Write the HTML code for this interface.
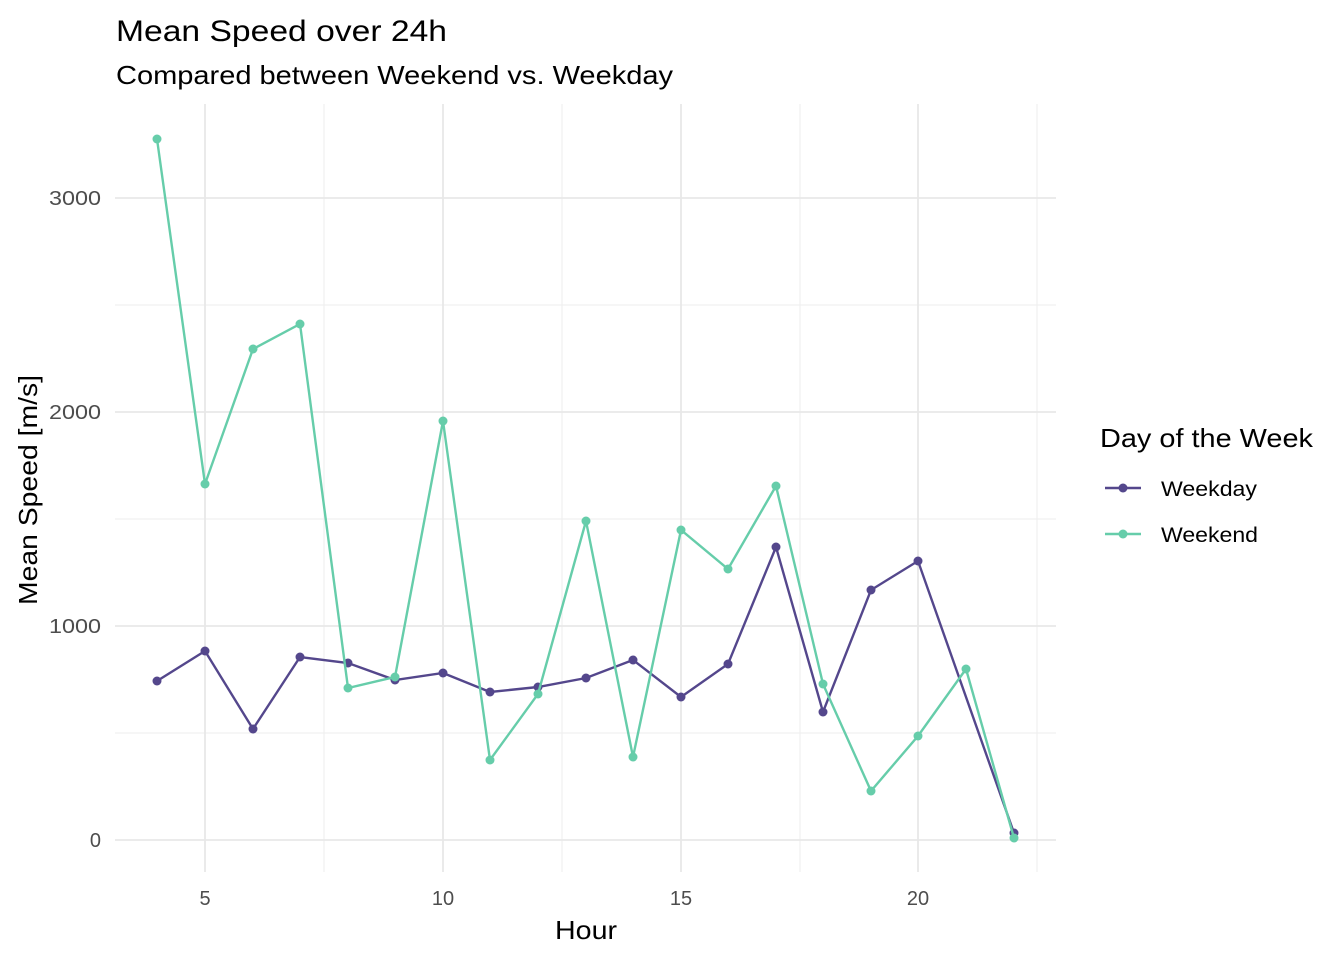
<!DOCTYPE html>
<html><head><meta charset="utf-8"><style>
body{margin:0;background:#fff}
svg{display:block;font-family:"Liberation Sans",Arial,sans-serif}
</style></head><body>
<svg width="1344" height="960" viewBox="0 0 1344 960">
<rect width="1344" height="960" fill="#fff"/>
<text x="116" y="41" font-size="30" fill="#000" textLength="331" lengthAdjust="spacingAndGlyphs">Mean Speed over 24h</text>
<text x="116" y="84" font-size="26" fill="#000" textLength="557" lengthAdjust="spacingAndGlyphs">Compared between Weekend vs. Weekday</text>
<g stroke="#f0f0f0" stroke-width="1.2">
<line x1="324" y1="104" x2="324" y2="872"/><line x1="562" y1="104" x2="562" y2="872"/>
<line x1="800" y1="104" x2="800" y2="872"/><line x1="1037" y1="104" x2="1037" y2="872"/>
<line x1="115" y1="733" x2="1056" y2="733"/><line x1="115" y1="519" x2="1056" y2="519"/>
<line x1="115" y1="305" x2="1056" y2="305"/>
</g>
<g stroke="#e8e8e8" stroke-width="1.8">
<line x1="205" y1="104" x2="205" y2="872"/><line x1="443" y1="104" x2="443" y2="872"/>
<line x1="681" y1="104" x2="681" y2="872"/><line x1="918" y1="104" x2="918" y2="872"/>
<line x1="115" y1="840" x2="1056" y2="840"/><line x1="115" y1="626" x2="1056" y2="626"/>
<line x1="115" y1="412" x2="1056" y2="412"/><line x1="115" y1="198" x2="1056" y2="198"/>
</g>
<g font-size="20" fill="#4d4d4d" text-anchor="end">
<text x="101" y="847">0</text><text x="101" y="633" textLength="52" lengthAdjust="spacingAndGlyphs">1000</text>
<text x="101" y="419" textLength="52" lengthAdjust="spacingAndGlyphs">2000</text><text x="101" y="205" textLength="52" lengthAdjust="spacingAndGlyphs">3000</text>
</g>
<g font-size="20" fill="#4d4d4d" text-anchor="middle">
<text x="205" y="905">5</text><text x="443" y="905">10</text>
<text x="681" y="905">15</text><text x="918" y="905">20</text>
</g>
<text x="555" y="939" font-size="26" textLength="62" lengthAdjust="spacingAndGlyphs">Hour</text>
<text transform="translate(37,605) rotate(-90)" font-size="26" textLength="230" lengthAdjust="spacingAndGlyphs">Mean Speed [m/s]</text>
<polyline fill="none" stroke="#54478c" stroke-width="2.4" points="157,681 205,651 253,729 300,657 348,663 395,680 443,673 490,692 538,687 586,678 633,660 681,697 728,664 776,547 823,712 871,590 918,561 1014,833"/>
<g fill="#54478c">
<circle cx="157" cy="681" r="4.5"/><circle cx="205" cy="651" r="4.5"/><circle cx="253" cy="729" r="4.5"/><circle cx="300" cy="657" r="4.5"/><circle cx="348" cy="663" r="4.5"/><circle cx="395" cy="680" r="4.5"/><circle cx="443" cy="673" r="4.5"/><circle cx="490" cy="692" r="4.5"/><circle cx="538" cy="687" r="4.5"/><circle cx="586" cy="678" r="4.5"/><circle cx="633" cy="660" r="4.5"/><circle cx="681" cy="697" r="4.5"/><circle cx="728" cy="664" r="4.5"/><circle cx="776" cy="547" r="4.5"/><circle cx="823" cy="712" r="4.5"/><circle cx="871" cy="590" r="4.5"/><circle cx="918" cy="561" r="4.5"/><circle cx="1014" cy="833" r="4.5"/>
</g>
<polyline fill="none" stroke="#66cdaa" stroke-width="2.4" points="157,139 205,484 253,349 300,324 348,688 395,677 443,421 490,760 538,694 586,521 633,757 681,530 728,569 776,486 823,684 871,791 918,736 966,669 1014,838"/>
<g fill="#66cdaa">
<circle cx="157" cy="139" r="4.5"/><circle cx="205" cy="484" r="4.5"/><circle cx="253" cy="349" r="4.5"/><circle cx="300" cy="324" r="4.5"/><circle cx="348" cy="688" r="4.5"/><circle cx="395" cy="677" r="4.5"/><circle cx="443" cy="421" r="4.5"/><circle cx="490" cy="760" r="4.5"/><circle cx="538" cy="694" r="4.5"/><circle cx="586" cy="521" r="4.5"/><circle cx="633" cy="757" r="4.5"/><circle cx="681" cy="530" r="4.5"/><circle cx="728" cy="569" r="4.5"/><circle cx="776" cy="486" r="4.5"/><circle cx="823" cy="684" r="4.5"/><circle cx="871" cy="791" r="4.5"/><circle cx="918" cy="736" r="4.5"/><circle cx="966" cy="669" r="4.5"/><circle cx="1014" cy="838" r="4.5"/>
</g>
<text x="1100" y="447" font-size="26" textLength="213" lengthAdjust="spacingAndGlyphs">Day of the Week</text>
<line x1="1105" y1="488" x2="1141" y2="488" stroke="#54478c" stroke-width="2.4"/>
<circle cx="1123" cy="488" r="4.5" fill="#54478c"/>
<text x="1161" y="496" font-size="21" textLength="96" lengthAdjust="spacingAndGlyphs">Weekday</text>
<line x1="1105" y1="534" x2="1141" y2="534" stroke="#66cdaa" stroke-width="2.4"/>
<circle cx="1123" cy="534" r="4.5" fill="#66cdaa"/>
<text x="1161" y="542" font-size="21" textLength="97" lengthAdjust="spacingAndGlyphs">Weekend</text>
</svg>
</body></html>
